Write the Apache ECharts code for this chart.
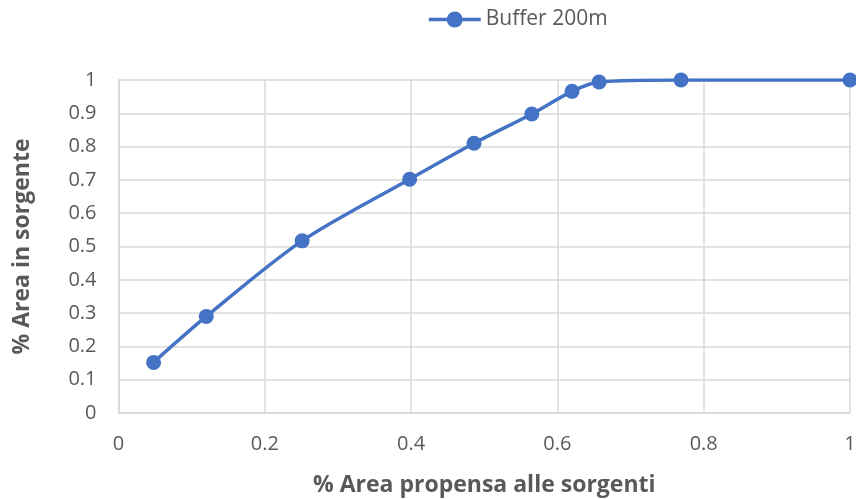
<!DOCTYPE html>
<html>
<head>
<meta charset="utf-8">
<script src="https://cdn.jsdelivr.net/npm/echarts@6/dist/echarts.min.js"></script>
<style>
  html, body { margin: 0; padding: 0; background: #fff; }
  #chart { width: 856px; height: 499px; }
</style>
</head>
<body>
<div id="chart"></div>
<script>
// Share of spring-prone area (x) vs share of area in springs (y), 200 m buffer
const seriesName = 'Buffer 200m';
const areaPropensa = [0.048, 0.120, 0.251, 0.398, 0.486, 0.565, 0.620, 0.657, 0.769, 1.0];
const areaSorgente = [0.152, 0.290, 0.517, 0.702, 0.810, 0.898, 0.966, 0.994, 1.0, 1.0];
const xAxisTitle = '% Area propensa alle sorgenti';
const yAxisTitle = '% Area in sorgente';

const points = areaPropensa.map((x, i) => [x, areaSorgente[i]]);
const fontFamily = 'Open Sans, Liberation Sans, sans-serif';
const gridColor = '#d9d9d9';
const textColor = '#595959';
const lineColor = '#4472C4';

const chart = echarts.init(document.getElementById('chart'), null, { renderer: 'canvas' });
chart.setOption({
  animation: false,
  backgroundColor: '#ffffff',
  legend: {
    top: 4,
    left: 422,
    itemWidth: 52,
    itemHeight: 20,
    itemGap: 6,
    lineStyle: { width: 3.5 },
    textStyle: { color: textColor, fontSize: 21, fontFamily: fontFamily },
    data: [seriesName]
  },
  grid: { left: 118.5, right: 6, top: 80, bottom: 86, containLabel: false, outerBoundsMode: 'none' },
  xAxis: {
    type: 'value',
    min: 0, max: 1, interval: 0.2,
    name: xAxisTitle,
    nameLocation: 'middle',
    nameGap: 61,
    nameTextStyle: { color: textColor, fontSize: 23, fontWeight: 'bold', fontFamily: fontFamily },
    axisLine: { show: true, lineStyle: { color: gridColor, width: 1.5 } },
    axisTick: { show: false },
    axisLabel: { color: textColor, fontSize: 20, fontFamily: fontFamily, margin: 21 },
    splitLine: { show: true, lineStyle: { color: gridColor, width: 1.5 } }
  },
  yAxis: {
    type: 'value',
    min: 0, max: 1, interval: 0.1,
    name: yAxisTitle,
    nameLocation: 'middle',
    nameGap: 85,
    nameTextStyle: { color: textColor, fontSize: 23, fontWeight: 'bold', fontFamily: fontFamily },
    axisLine: { show: true, lineStyle: { color: gridColor, width: 1.5 } },
    axisTick: { show: false },
    axisLabel: { color: textColor, fontSize: 20, fontFamily: fontFamily, margin: 22 },
    splitLine: { show: true, lineStyle: { color: gridColor, width: 1.5 } }
  },
  series: [{
    name: seriesName,
    type: 'line',
    data: points,
    smooth: 0.3,
    symbol: 'circle',
    symbolSize: 15,
    lineStyle: { color: lineColor, width: 3.5 },
    itemStyle: { color: lineColor }
  }]
});
</script>
</body>
</html>
